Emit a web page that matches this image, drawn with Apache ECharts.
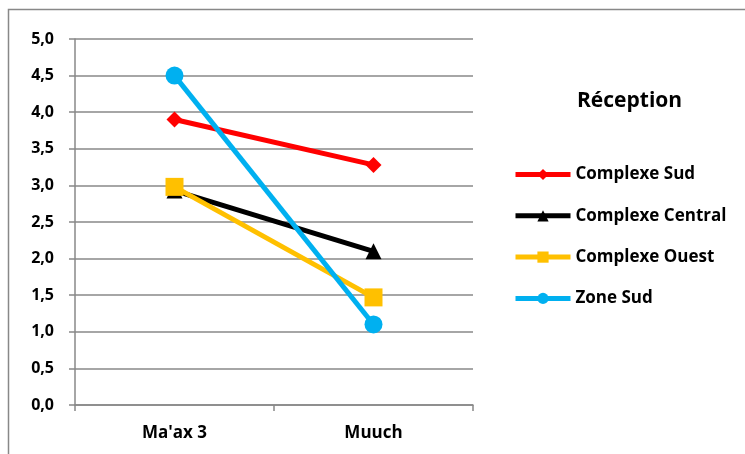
<!DOCTYPE html>
<html>
<head>
<meta charset="utf-8">
<script src="https://cdn.jsdelivr.net/npm/echarts@6/dist/echarts.min.js"></script>
<style>
  html, body { margin: 0; padding: 0; background: #fff; }
  #main { width: 745px; height: 454px; }
</style>
</head>
<body>
<div id="main"></div>
<script>
// data
var categories = ["Ma'ax 3", 'Muuch'];
var complexeSud = [3.9, 3.28];
var complexeCentral = [2.93, 2.1];
var complexeOuest = [2.98, 1.47];
var zoneSud = [4.5, 1.1];
var yTicks = [0, 0.5, 1, 1.5, 2, 2.5, 3, 3.5, 4, 4.5, 5];

var fontFam = '"Open Sans", sans-serif';
var chart = echarts.init(document.getElementById('main'));

function mkSeries(name, data, color, symbol, size) {
  return {
    name: name,
    type: 'line',
    data: data,
    symbol: symbol,
    symbolSize: size,
    lineStyle: { color: color, width: 5 },
    itemStyle: { color: color },
    animation: false
  };
}

var option = {
  animation: false,
  title: {
    text: 'Réception',
    left: 572,
    top: 86,
    textStyle: { fontFamily: fontFam, fontSize: 21, fontWeight: 'bold', color: '#000' }
  },
  legend: {
    orient: 'vertical',
    left: 508,
    top: 161,
    itemWidth: 55,
    itemHeight: 14,
    itemGap: 24.3,
    lineStyle: { width: 5 },
    textStyle: { fontFamily: fontFam, fontSize: 17, fontWeight: 'bold', color: '#000' },
    data: ['Complexe Sud', 'Complexe Central', 'Complexe Ouest', 'Zone Sud']
  },
  grid: { left: 75, right: 272, top: 39, bottom: 49 },
  xAxis: {
    type: 'category',
    data: categories,
    boundaryGap: true,
    axisLine: { lineStyle: { color: '#888', width: 1.5 } },
    axisTick: { show: true, length: 6, lineStyle: { color: '#888', width: 1.5 } },
    axisLabel: { fontFamily: fontFam, fontSize: 17, fontWeight: 'bold', color: '#000', margin: 20 }
  },
  yAxis: {
    type: 'value',
    min: yTicks[0],
    max: yTicks[yTicks.length - 1],
    interval: 0.5,
    axisLine: { show: true, lineStyle: { color: '#888', width: 1.5 } },
    axisTick: { show: true, length: 6, lineStyle: { color: '#888', width: 1.5 } },
    splitLine: { lineStyle: { color: '#888', width: 1.5 } },
    axisLabel: {
      fontFamily: fontFam, fontSize: 16, fontWeight: 'bold', color: '#000', margin: 21,
      formatter: function (v) { return v.toFixed(1).replace('.', ','); }
    }
  },
  graphic: [{
    type: 'rect',
    shape: { x: 8.5, y: 9.5, width: 760, height: 460 },
    style: { fill: 'none', stroke: '#888', lineWidth: 1.5 },
    silent: true
  }],
  series: [
    mkSeries('Complexe Sud', complexeSud, '#ff0000', 'diamond', 16),
    mkSeries('Complexe Central', complexeCentral, '#000000', 'triangle', 16),
    mkSeries('Complexe Ouest', complexeOuest, '#ffc000', 'rect', 18),
    mkSeries('Zone Sud', zoneSud, '#00b0f0', 'circle', 18)
  ]
};
chart.setOption(option);
</script>
</body>
</html>
